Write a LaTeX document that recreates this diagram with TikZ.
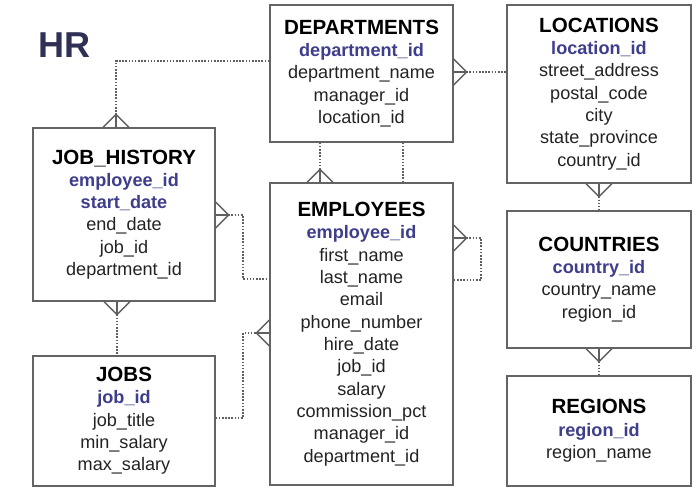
\documentclass[tikz,border=0pt]{standalone}
\usepackage{fontspec}
\setmainfont{Liberation Sans}
\usetikzlibrary{calc}

\definecolor{hrcol}{RGB}{48,48,84}
\definecolor{pkcol}{RGB}{62,62,140}
\definecolor{fieldcol}{RGB}{35,35,35}
\definecolor{boxgray}{RGB}{100,100,100}
\definecolor{linegray}{RGB}{95,95,95}

\newcommand{\ttl}[1]{{\fontsize{11.7}{12.7}\selectfont\bfseries\color{black}#1}\\}
\newcommand{\pk}[1]{{\bfseries\color{pkcol}#1}}

\tikzset{
	table/.style={draw=boxgray, line width=0.8pt, fill=white, align=center, inner sep=0pt,
		font=\fontsize{10.3}{12.7}\selectfont, text=fieldcol},
	rel/.style={draw=linegray, line width=0.7pt, dash pattern=on 0.9pt off 0.9pt},
	crowline/.style={draw=linegray, line width=0.8pt},
	crow/.pic={
		\draw[crowline] (0,13) -- (13,0) -- (0,-13);
		\draw[crowline] (0,0) -- (13,0);
	}
}

\begin{document}
\begin{tikzpicture}[x=0.02cm, y=0.02cm]
	\useasboundingbox[fill=white] (0,0) rectangle (698,-495);
	
	\node[font=\fontsize{20.5}{24}\selectfont\bfseries, text=hrcol] (hr) at (65,-45) {HR};
	
	% tables
	\node[table, minimum width=3.66cm, minimum height=2.74cm] (dept) at (361.5,-73.5)
		{\ttl{DEPARTMENTS}\pk{department\_id}\\department\_name\\manager\_id\\location\_id};
	\node[table, minimum width=3.68cm, minimum height=3.56cm] (loc) at (599,-94)
		{\ttl{LOCATIONS}\pk{location\_id}\\street\_address\\postal\_code\\city\\state\_province\\country\_id};
	\node[table, minimum width=3.64cm, minimum height=3.46cm] (jh) at (124,-214.5)
		{\ttl{JOB\_HISTORY}\pk{employee\_id}\\\pk{start\_date}\\end\_date\\job\_id\\department\_id};
	\node[table, minimum width=3.66cm, minimum height=6.04cm] (emp) at (361.5,-334)
		{\ttl{EMPLOYEES}\pk{employee\_id}\\first\_name\\last\_name\\email\\phone\_number\\hire\_date\\job\_id\\salary\\commission\_pct\\manager\_id\\department\_id};
	\node[table, minimum width=3.64cm, minimum height=2.6cm] (jobs) at (124,-421)
		{\ttl{JOBS}\pk{job\_id}\\job\_title\\min\_salary\\max\_salary};
	\node[table, minimum width=3.68cm, minimum height=2.74cm] (cty) at (599,-279.5)
		{\ttl{COUNTRIES}\pk{country\_id}\\country\_name\\region\_id};
	\node[table, minimum width=3.68cm, minimum height=2.2cm] (reg) at (599,-431)
		{\ttl{REGIONS}\pk{region\_id}\\region\_name};
	
	% relations
	\draw[rel] (dept.west |- 0,-61) -| (jh.north -| 116,0);
	\pic[rotate=90] at (jh.north -| 116,0) {crow};
	
	\draw[rel] (dept.east |- 0,-72) -- (loc.west |- 0,-72);
	\pic at (dept.east |- 0,-72) {crow};
	
	\draw[rel] (dept.south -| 320,0) -- (emp.north -| 320,0);
	\pic[rotate=90] at (emp.north -| 320,0) {crow};
	\draw[rel] (dept.south -| 403,0) -- (emp.north -| 403,0);
	
	\draw[rel] (loc.south) -- (cty.north);
	\pic[rotate=-90] at (loc.south) {crow};
	
	\draw[rel] (cty.south) -- (reg.north);
	\pic[rotate=-90] at (cty.south) {crow};
	
	\draw[rel] (emp.east |- 0,-238) -- (481,-238) |- (emp.east |- 0,-280);
	\pic at (emp.east |- 0,-238) {crow};
	
	\draw[rel] (jh.east |- 0,-215) -- (243,-215) |- (emp.west |- 0,-279);
	\pic at (jh.east |- 0,-215) {crow};
	
	\draw[rel] (jh.south -| 117,0) -- (jobs.north -| 117,0);
	\pic[rotate=-90] at (jh.south -| 117,0) {crow};
	
	\draw[rel] (jobs.east |- 0,-418) -- (243,-418) |- (emp.west |- 0,-333);
	\pic[rotate=180] at (emp.west |- 0,-333) {crow};
\end{tikzpicture}
\end{document}
